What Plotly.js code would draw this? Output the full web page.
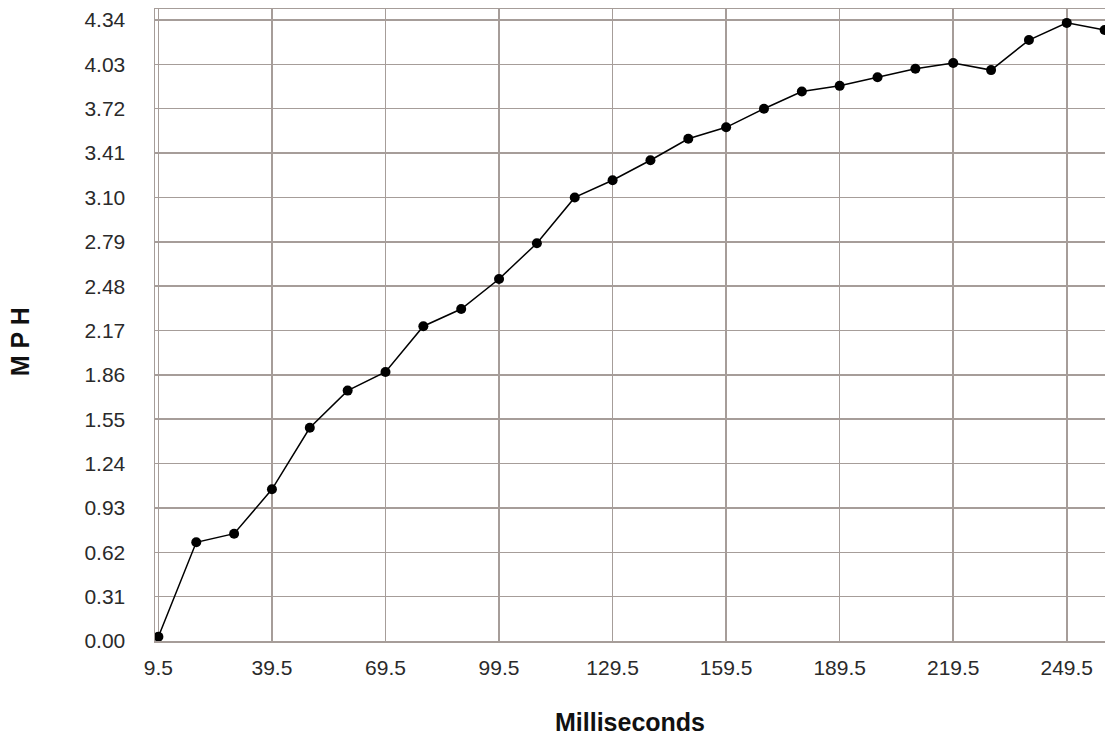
<!DOCTYPE html>
<html>
<head>
<meta charset="utf-8">
<script src="https://cdn.plot.ly/plotly-3.0.1.min.js"></script>
<style>
  html, body { margin: 0; padding: 0; background: #ffffff; }
  #chart { width: 1105px; height: 737px; }
</style>
</head>
<body>
<div id="chart"></div>
<script>
// Data
var milliseconds = [9.5, 19.5, 29.5, 39.5, 49.5, 59.5, 69.5, 79.5, 89.5, 99.5,
                    109.5, 119.5, 129.5, 139.5, 149.5, 159.5, 169.5, 179.5, 189.5, 199.5,
                    209.5, 219.5, 229.5, 239.5, 249.5, 259.5];
var mph = [0.03, 0.69, 0.75, 1.06, 1.49, 1.75, 1.88, 2.20, 2.32, 2.53,
           2.78, 3.10, 3.22, 3.36, 3.51, 3.59, 3.72, 3.84, 3.88, 3.94,
           4.00, 4.04, 3.99, 4.20, 4.32, 4.27];

var xTickVals = [9.5, 39.5, 69.5, 99.5, 129.5, 159.5, 189.5, 219.5, 249.5];
var xTickText = ["9.5", "39.5", "69.5", "99.5", "129.5", "159.5", "189.5", "219.5", "249.5"];
var yTickVals = [0, 0.31, 0.62, 0.93, 1.24, 1.55, 1.86, 2.17, 2.48, 2.79, 3.10, 3.41, 3.72, 4.03, 4.34];
var yTickText = ["0.00", "0.31", "0.62", "0.93", "1.24", "1.55", "1.86", "2.17", "2.48", "2.79", "3.10", "3.41", "3.72", "4.03", "4.34"];
var xTitle = 'Milliseconds';
var yTitle = 'M P H';

var gridColor = '#a69d99';
var fontFamily = 'Liberation Sans, Arial, sans-serif';

var trace = {
  x: milliseconds,
  y: mph,
  type: 'scatter',
  mode: 'lines+markers',
  line: { color: '#000000', width: 1.5 },
  marker: { color: '#000000', size: 10 },
  cliponaxis: true,
  hoverinfo: 'x+y'
};

var layout = {
  width: 1105,
  height: 737,
  margin: { l: 155, r: 0, t: 9, b: 96, pad: 0 },
  paper_bgcolor: '#ffffff',
  plot_bgcolor: '#ffffff',
  showlegend: false,
  font: { family: fontFamily, color: '#2a2a2a', size: 21 },
  xaxis: {
    range: [8.6, 259.6],
    tickmode: 'array',
    tickvals: xTickVals,
    ticktext: xTickText,
    showgrid: true,
    gridcolor: gridColor,
    gridwidth: 1.5,
    zeroline: false,
    showline: true,
    linecolor: gridColor,
    linewidth: 1.5,
    mirror: true,
    ticks: '',
    ticklabelstandoff: 7,
    tickfont: { family: fontFamily, size: 21, color: '#2a2a2a' },
    title: {
      text: '<b>' + xTitle + '</b>',
      font: { family: fontFamily, size: 25, color: '#111111' },
      standoff: 36
    },
    automargin: false,
    fixedrange: true
  },
  yaxis: {
    range: [0, 4.417],
    tickmode: 'array',
    tickvals: yTickVals,
    ticktext: yTickText,
    showgrid: true,
    gridcolor: gridColor,
    gridwidth: 1.5,
    zeroline: false,
    showline: true,
    linecolor: gridColor,
    linewidth: 1.5,
    mirror: true,
    ticks: '',
    ticklabelstandoff: 24,
    tickfont: { family: fontFamily, size: 21, color: '#2a2a2a' },
    automargin: false,
    fixedrange: true
  },
  annotations: [{
    text: '<b>' + yTitle + '</b>',
    xref: 'paper', yref: 'paper',
    x: -0.142, y: 0.473,
    xanchor: 'center', yanchor: 'middle',
    textangle: -90,
    showarrow: false,
    font: { family: fontFamily, size: 25, color: '#111111' }
  }]
};

Plotly.newPlot('chart', [trace], layout, { staticPlot: true, displayModeBar: false });
</script>
</body>
</html>
